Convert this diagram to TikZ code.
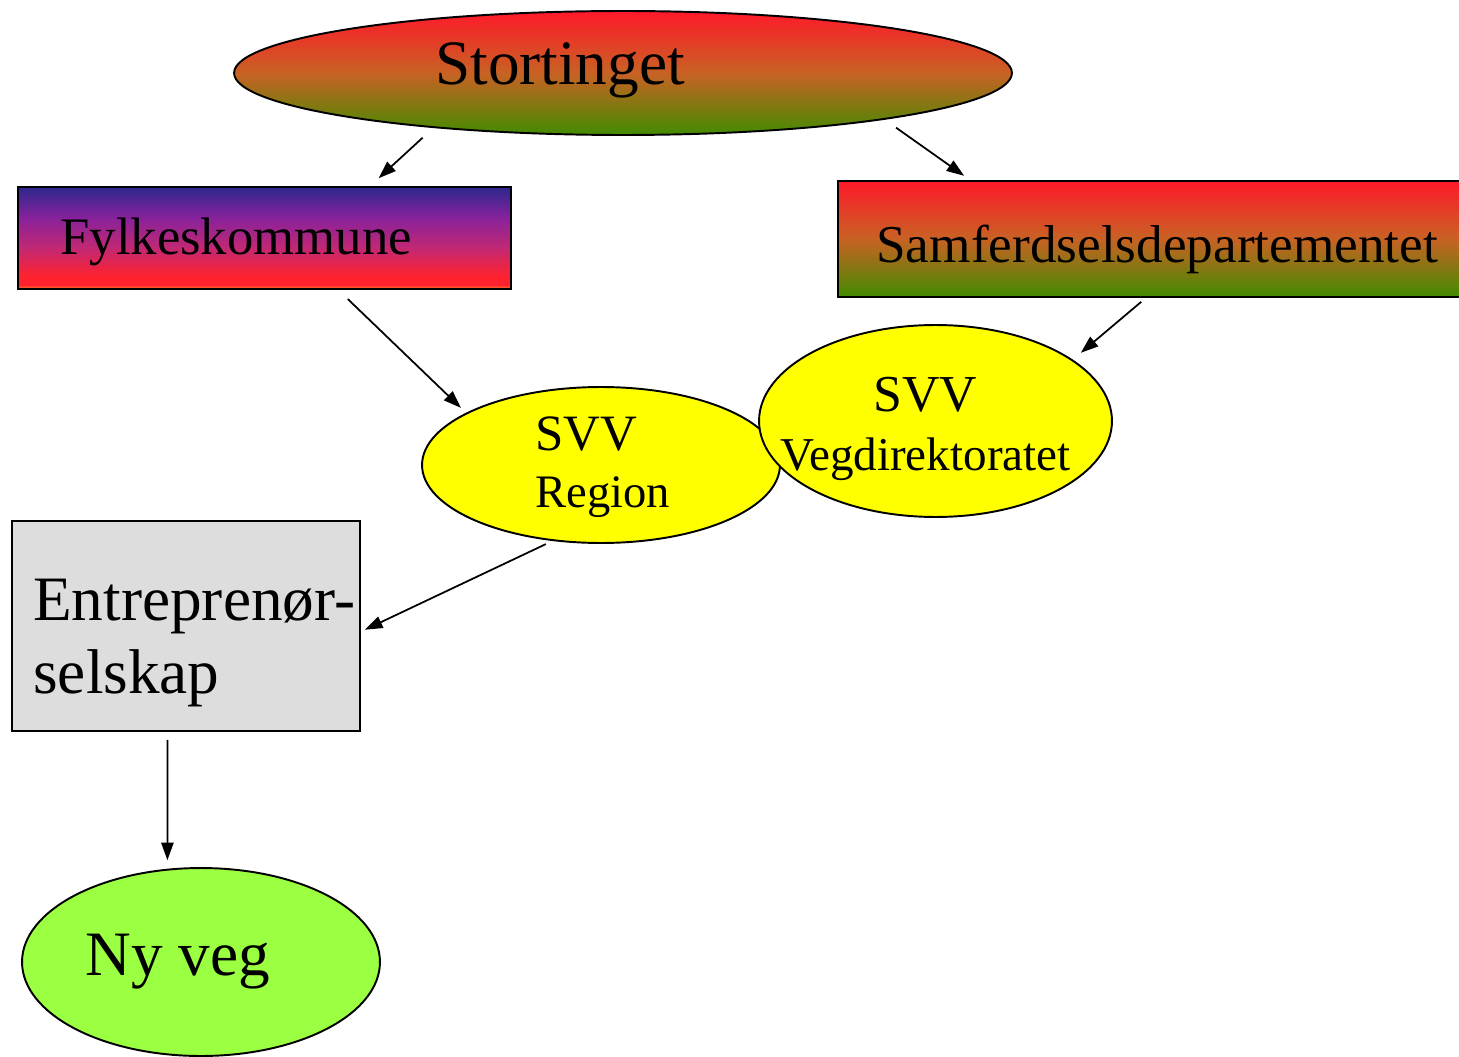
\documentclass[tikz,border=0pt]{standalone}
\usepackage{fontspec}
\setmainfont{Liberation Serif}
\usepackage{tikz}
\usetikzlibrary{positioning, arrows.meta, shapes.geometric}

\definecolor{stred}{RGB}{255,25,42}
\definecolor{stmid}{RGB}{200,98,36}
\definecolor{stgreen}{RGB}{66,140,0}
\definecolor{fynavy}{RGB}{44,40,142}
\definecolor{fypurple}{RGB}{135,34,155}
\definecolor{fymag}{RGB}{195,40,115}
\definecolor{fyred}{RGB}{255,34,46}
\definecolor{fyorange}{RGB}{255,125,40}
\definecolor{svvyellow}{RGB}{255,255,0}
\definecolor{entgray}{RGB}{221,221,221}
\definecolor{vegreen}{RGB}{155,255,66}

\pgfdeclareverticalshading{fylkeshade}{100bp}{color(0bp)=(fyorange); color(25bp)=(fyorange); color(27bp)=(fyred); color(31bp)=(fyred); color(45bp)=(fymag); color(60bp)=(fypurple); color(75bp)=(fynavy); color(100bp)=(fynavy)}

\begin{document}
\begin{tikzpicture}[x=0.02cm, y=-0.02cm, >={Triangle[length=10pt,width=7pt]},
  box/.style={draw, line width=1.1pt, inner sep=0pt, outer sep=0pt},
  oval/.style={box, ellipse},
  txt/.style={anchor=base west, inner sep=0pt},
  arr/.style={->, line width=1pt}]
\useasboundingbox (0,0) rectangle (1459,1057);
% Top level
\node[oval, minimum width=15.56cm, minimum height=2.48cm, top color=stred, bottom color=stgreen, middle color=stmid] (sto) at (623,73) {};
\node[txt, font=\fontsize{36}{40}\selectfont] (stot) at (435,85) {Stortinget};
% Second level
\node[box, minimum width=9.86cm, minimum height=2.04cm, shade, shading=fylkeshade] (fyl) at (264.5,238) {};
\node[txt, font=\fontsize{30}{34}\selectfont] (fylt) at (60,255) {Fylkeskommune};
\node[box, minimum width=12.48cm, minimum height=2.32cm, top color=stred, bottom color=stgreen, middle color=stmid] (sam) at (1150,239) {};
\node[txt, font=\fontsize{30.3}{34}\selectfont] (samt) at (876,263) {Samferdselsdepartementet};
% SVV
\node[oval, minimum width=7.16cm, minimum height=3.12cm, fill=svvyellow] (reg) at (601,465) {};
\node[txt, font=\fontsize{29}{32}\selectfont] (regt) at (535,450) {SVV};
\node[txt, font=\fontsize{26.5}{30}\selectfont] (regt2) at (535,507) {Region};
\node[oval, minimum width=7.06cm, minimum height=3.84cm, fill=svvyellow] (veg) at (935.5,421) {};
\node[txt, font=\fontsize{29.5}{32}\selectfont] (vegt) at (873,411) {SVV};
\node[txt, font=\fontsize{26.8}{30}\selectfont] (vegt2) at (780,470) {Vegdirektoratet};
% Bottom
\node[box, minimum width=6.96cm, minimum height=4.2cm, fill=entgray] (ent) at (186,626) {};
\node[txt, font=\fontsize{36}{40}\selectfont] (entt) at (33,620) {Entreprenør-};
\node[txt, font=\fontsize{36}{40}\selectfont] (entt2) at (33,693) {selskap};
\node[oval, minimum width=7.16cm, minimum height=3.76cm, fill=vegreen] (ny) at (201,962) {};
\node[txt, font=\fontsize{36}{40}\selectfont] (nyt) at (85,975) {Ny veg};
% Connectors
\draw[arr, shorten <=0.31cm, shorten >=0.26cm] (sto.196) -- (fyl.26);
\draw[arr, shorten <=0.3cm, shorten >=0.18cm] (sto.350) -- (sam.162);
\draw[arr, shorten <=0.29cm, shorten >=0.16cm] (fyl.325) -- (reg.159);
\draw[arr, shorten <=0.15cm, shorten >=0.23cm] (sam.267) -- (veg.24);
\draw[arr, shorten <=0.18cm, shorten >=0.11cm] (reg.238) -- (ent.358);
\draw[arr, shorten <=0.18cm, shorten >=0.19cm] (ent.260) -- (ny.110);
\end{tikzpicture}
\end{document}
